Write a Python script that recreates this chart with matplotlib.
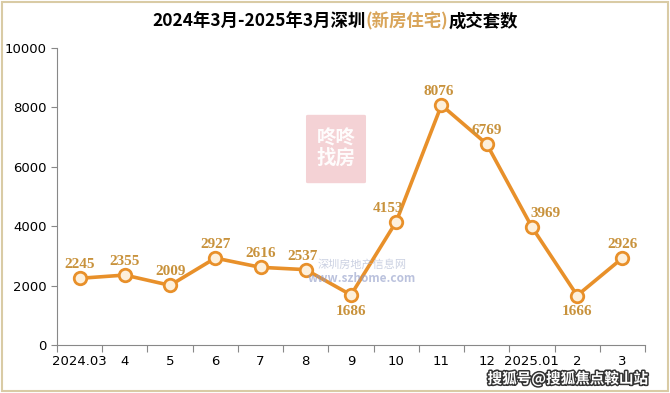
import matplotlib
matplotlib.use("Agg")
import matplotlib.pyplot as plt
from matplotlib.patches import Rectangle, FancyBboxPatch
import matplotlib.patheffects as pe

plt.rcParams['font.family'] = ['Noto Sans CJK SC', 'DejaVu Sans']

# 数据
months = ['2024.03', '4', '5', '6', '7', '8', '9', '10', '11', '12', '2025.01', '2', '3']
deals = [2245, 2355, 2009, 2927, 2616, 2537, 1686, 4153, 8076, 6769, 3969, 1666, 2926]
# 标签位置偏移 (点)
label_offsets = [(0, 5), (0, 5), (0, 5), (0, 5), (0, 5), (-2, 5), (0, -7),
                 (-6, 5), (-2, 5), (0, 5), (10, 5), (0, -7), (0, 5)]

line_color = '#E8902A'
label_color = '#C8923C'

fig = plt.figure(figsize=(6.7, 3.93), dpi=100)
ax = fig.add_axes([57 / 670, 48 / 393, 588 / 670, 297 / 393])

x = list(range(len(months)))
ax.plot(x, deals, color=line_color, linewidth=2.6, marker='o', markersize=9,
        markerfacecolor='#FDF0DC', markeredgecolor=line_color, markeredgewidth=2, zorder=5)

for i, v in enumerate(deals):
    dx, dy = label_offsets[i]
    ax.annotate(str(v), (i, v), xytext=(dx, dy), textcoords='offset points',
                ha='center', va='bottom' if dy > 0 else 'top', fontsize=11,
                fontweight='bold', color=label_color, family='Liberation Serif', zorder=6)

ax.set_xlim(-0.5, len(months) - 0.5)
ax.set_ylim(0, 10000)
ax.set_yticks(range(0, 10001, 2000))
ax.set_yticklabels([str(t) for t in range(0, 10001, 2000)], fontsize=9.5, family='DejaVu Sans')

# 刻度线放在类别边界, 标签放在中间
ax.set_xticks([i - 0.5 for i in range(len(months) + 1)])
ax.set_xticklabels([])
ax.set_xticks(x, minor=True)
ax.set_xticklabels(months, minor=True, fontsize=9.5, family='DejaVu Sans')
ax.tick_params(axis='x', which='major', length=5, color='#888888')
ax.tick_params(axis='x', which='minor', length=0, pad=7)
ax.tick_params(axis='y', length=4, color='#888888')

for s in ['top', 'right']:
    ax.spines[s].set_visible(False)
for s in ['left', 'bottom']:
    ax.spines[s].set_color('#888888')

# 标题 (分段着色)
fig.canvas.draw()
renderer = fig.canvas.get_renderer()
parts = [('2024年3月-2025年3月深圳', 'black'), ('(新房住宅)', '#D9A55A'), ('成交套数', 'black')]
texts = []
for s, c in parts:
    texts.append(fig.text(0, 0.945, s, color=c, fontsize=12.5, fontweight='bold', va='center'))
widths = [t.get_window_extent(renderer).width for t in texts]
start = (670 - sum(widths)) / 2
for t, w in zip(texts, widths):
    t.set_x(start / 670)
    start += w

# 水印
wm = FancyBboxPatch((308 / 670, 1 - 182 / 393), 56 / 670, 66 / 393,
                    boxstyle='round,pad=0.003', transform=fig.transFigure,
                    facecolor='#F2C7CB', edgecolor='none', alpha=0.8, zorder=1)
fig.patches.append(wm)
fig.text(336 / 670, 1 - 149 / 393, '咚咚\n找房', ha='center', va='center', fontsize=14,
         color='white', fontweight='bold', linespacing=1.0, alpha=0.95)
fig.text(362 / 670, 1 - 265 / 393, '深圳房地产信息网', ha='center', va='center', fontsize=8,
         color='#A9B3CF', alpha=0.6, style='italic')
fig.text(362 / 670, 1 - 278 / 393, 'www.szhome.com', ha='center', va='center', fontsize=8.5,
         color='#8E9AC7', alpha=0.6, style='italic', fontweight='bold')
fig.text(568 / 670, 1 - 379 / 393, '搜狐号@搜狐焦点鞍山站', ha='center', va='center', fontsize=10.5,
         color='white', fontweight='bold',
         path_effects=[pe.withStroke(linewidth=2.2, foreground='#333333')])

# 外框
fig.patches.append(Rectangle((2 / 670, 2 / 393), 666 / 670, 389 / 393, transform=fig.transFigure,
                             fill=False, edgecolor='#D9CBA5', linewidth=1.5))

fig.savefig('out.png', dpi=100)
